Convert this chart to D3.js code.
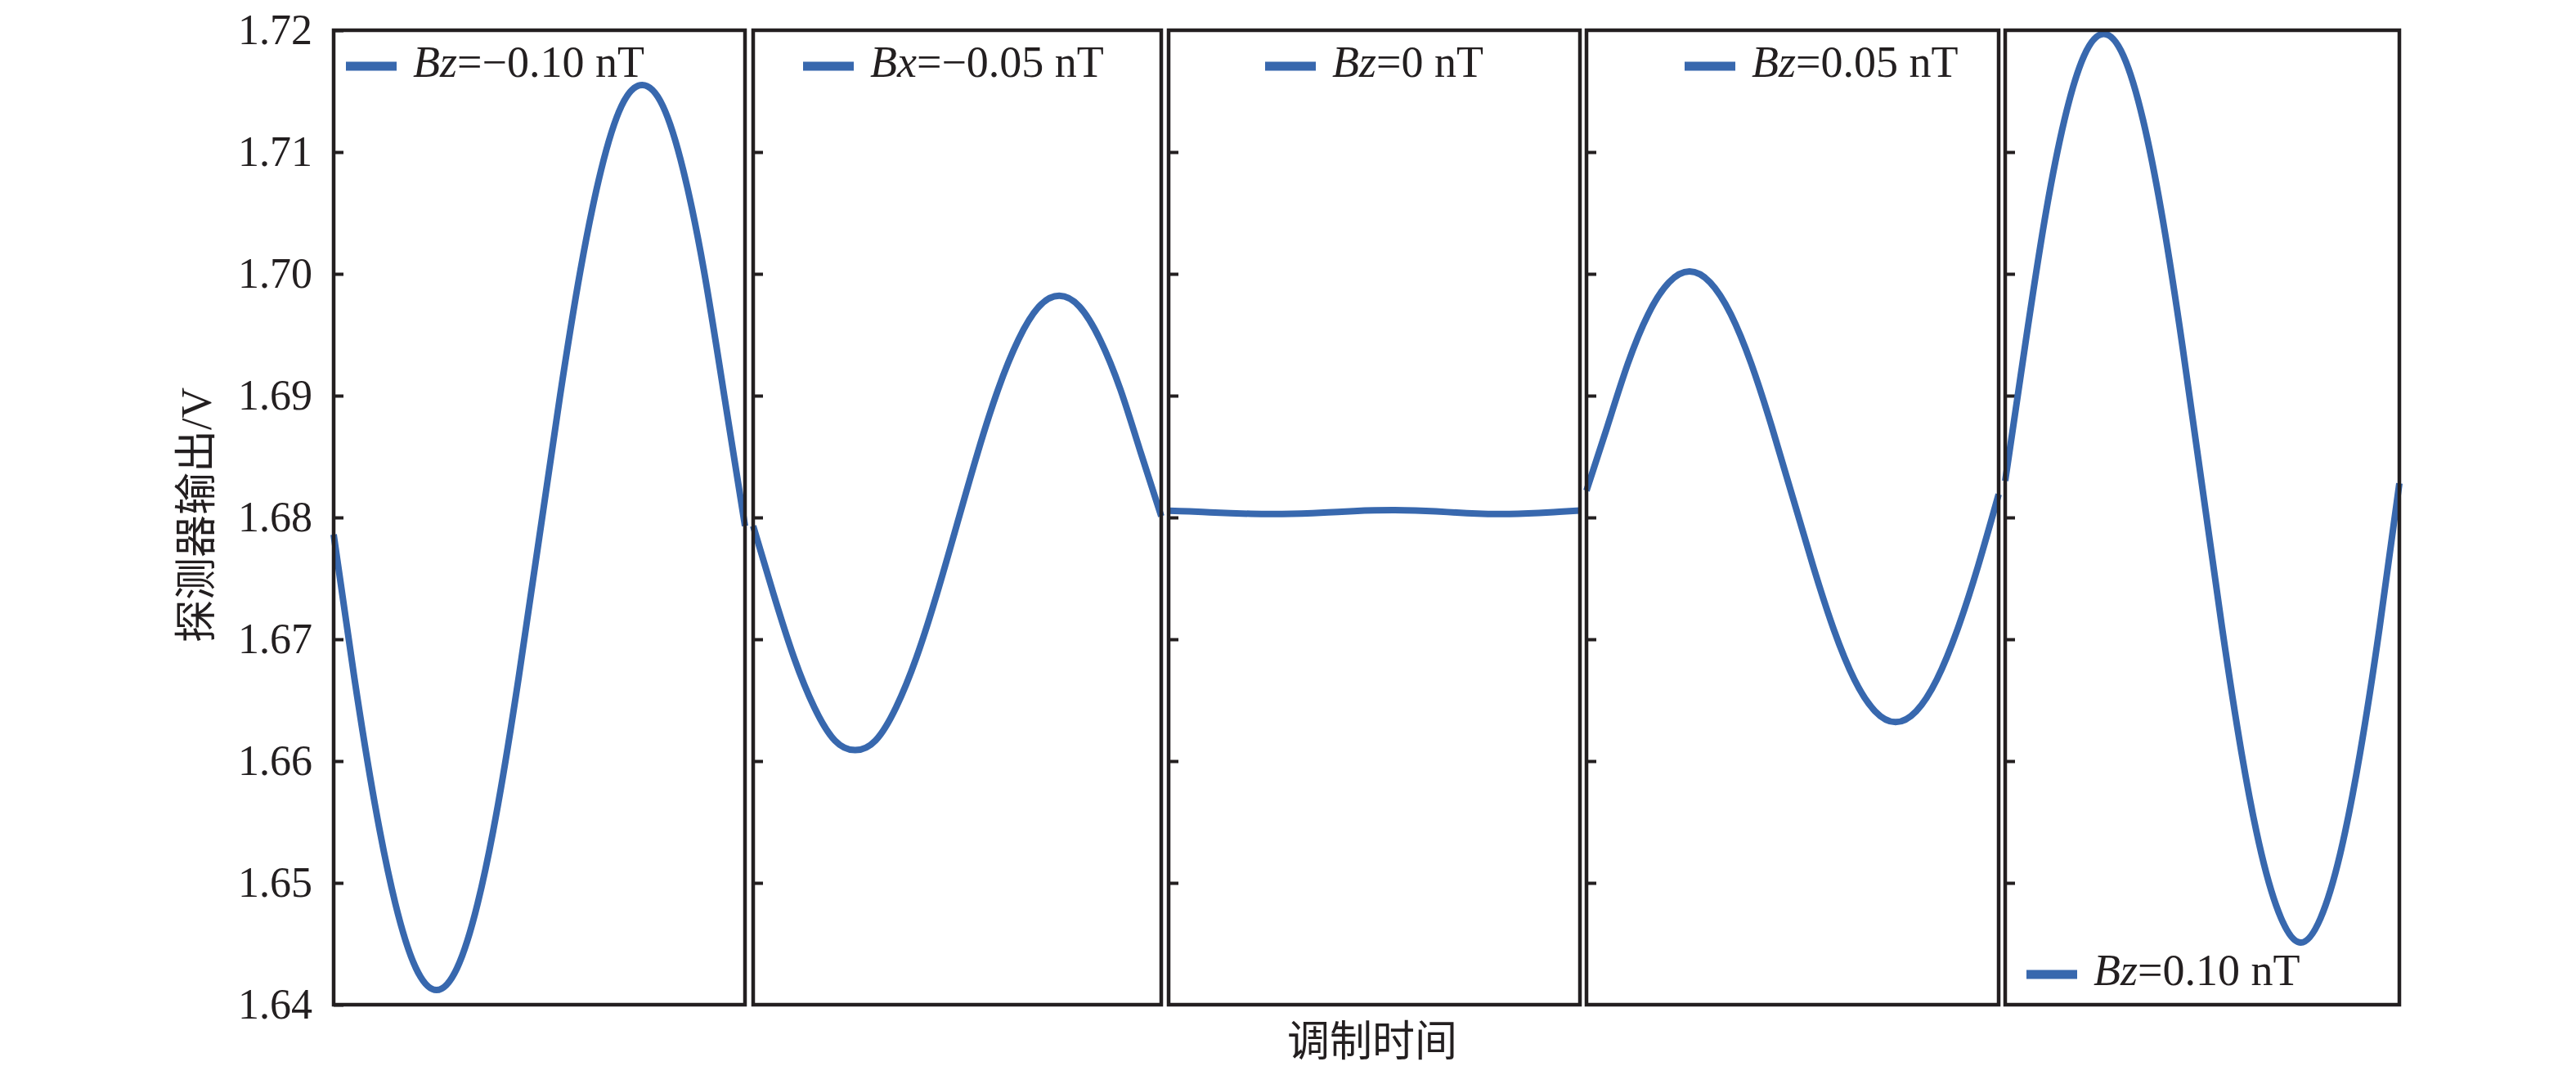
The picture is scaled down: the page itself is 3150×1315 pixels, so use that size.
<!DOCTYPE html>
<html>
<head>
<meta charset="utf-8">
<script src="https://cdn.jsdelivr.net/npm/d3@7"></script>
<style>
  body { margin: 0; background: #fff; }
  text { fill: #231f20; }
</style>
</head>
<body>
<div id="chart"></div>
<script>
var width = 3150, height = 1315;

// sample positions across one modulation period (fraction of panel width)
var tPos = [0, 0.05, 0.1, 0.15, 0.2, 0.25, 0.3, 0.35, 0.4, 0.45, 0.5,
            0.55, 0.6, 0.65, 0.7, 0.75, 0.8, 0.85, 0.9, 0.95, 1];

// detector output (V)
var outBzM010 = [1.6786, 1.6669, 1.6565, 1.6483, 1.6430, 1.6412, 1.6430, 1.6483, 1.6565, 1.6669, 1.6784,
                 1.6899, 1.7003, 1.7085, 1.7138, 1.7155, 1.7138, 1.7085, 1.7003, 1.6899, 1.6793];
var outBxM005 = [1.6793, 1.6737, 1.6685, 1.6644, 1.6617, 1.6609, 1.6617, 1.6644, 1.6685, 1.6737, 1.6795,
                 1.6853, 1.6905, 1.6946, 1.6973, 1.6982, 1.6973, 1.6946, 1.6905, 1.6853, 1.6801];
var outBz0    = [1.68055, 1.68050, 1.68042, 1.68035, 1.68030, 1.68028, 1.68030, 1.68036, 1.68044, 1.68052, 1.68058,
                 1.68060, 1.68057, 1.68050, 1.68040, 1.68032, 1.68028, 1.68030, 1.68037, 1.68047, 1.68057];
var outBz005  = [1.6822, 1.6874, 1.6926, 1.6967, 1.6993, 1.7002, 1.6993, 1.6967, 1.6926, 1.6874, 1.6817,
                 1.6760, 1.6708, 1.6667, 1.6641, 1.6632, 1.6641, 1.6667, 1.6708, 1.6760, 1.6819];
var outBz010  = [1.6830, 1.6940, 1.7044, 1.7126, 1.7179, 1.7197, 1.7179, 1.7126, 1.7044, 1.6940, 1.6825,
                 1.6710, 1.6606, 1.6524, 1.6471, 1.6451, 1.6471, 1.6524, 1.6606, 1.6710, 1.6828];

var seriesList = [outBzM010, outBxM005, outBz0, outBz005, outBz010];
var legendVar = ["Bz", "Bx", "Bz", "Bz", "Bz"];
var legendVal = ["=\u22120.10 nT", "=\u22120.05 nT", "=0 nT", "=0.05 nT", "=0.10 nT"];

var yTicks = [1.64, 1.65, 1.66, 1.67, 1.68, 1.69, 1.70, 1.71, 1.72];

// panel boxes (pixel layout)
var panelLeft  = [408, 921, 1429, 1940, 2452];
var panelRight = [911, 1420, 1932, 2444, 2934];
var legendX = [15, 61, 118, 120, 26];       // legend line start, from panel left
var legendY = [81, 81, 81, 81, 1192];
var plotTop = 37, plotBottom = 1229;
var blue = "#3868ae", ink = "#231f20";

var svg = d3.select("#chart").append("svg")
    .attr("width", width)
    .attr("height", height);

var y = d3.scaleLinear().domain([1.64, 1.72]).range([plotBottom, plotTop]);

seriesList.forEach(function(vals, i) {
  var x = d3.scaleLinear().domain([0, 1]).range([panelLeft[i], panelRight[i]]);
  var g = svg.append("g").attr("class", "panel");

  var axis = d3.axisLeft(y)
      .tickValues(i == 0 ? yTicks : yTicks.slice(1, -1))
      .tickSize(-12)
      .tickPadding(26)
      .tickFormat(i == 0 ? d3.format(".2f") : "");
  var ax = g.append("g")
      .attr("transform", "translate(" + panelLeft[i] + ",0)")
      .call(axis);
  ax.select(".domain").remove();
  ax.selectAll("line").attr("stroke", ink).attr("stroke-width", 4);
  ax.selectAll("text")
      .style("font-family", "'Liberation Serif', 'Times New Roman', serif")
      .style("font-size", "52px")
      .attr("fill", ink);

  g.append("path")
      .datum(vals)
      .attr("fill", "none")
      .attr("stroke", blue)
      .attr("stroke-width", 8)
      .attr("stroke-linejoin", "round")
      .attr("d", d3.line()
        .x(function(d, j) { return x(tPos[j]); })
        .y(function(d) { return y(d); })
        .curve(d3.curveNatural));

  g.append("rect")
      .attr("x", panelLeft[i]).attr("y", plotTop)
      .attr("width", panelRight[i] - panelLeft[i])
      .attr("height", plotBottom - plotTop)
      .attr("fill", "none")
      .attr("stroke", ink)
      .attr("stroke-width", 4.5);

  // legend
  var lx = panelLeft[i] + legendX[i], ly = legendY[i];
  g.append("line")
      .attr("x1", lx).attr("x2", lx + 62)
      .attr("y1", ly).attr("y2", ly)
      .attr("stroke", blue)
      .attr("stroke-width", 11);
  var t = g.append("text")
      .attr("x", lx + 82)
      .attr("y", ly + 13)
      .style("font-family", "'Liberation Serif', 'Times New Roman', serif")
      .style("font-size", "54px");
  t.append("tspan").style("font-style", "italic").text(legendVar[i]);
  t.append("tspan").text(legendVal[i]);
});

// axis titles
svg.append("text")
    .attr("transform", "translate(258,630) rotate(-90)")
    .attr("text-anchor", "middle")
    .style("font-family", "'Liberation Serif', 'Noto Sans CJK SC', serif")
    .style("font-size", "52px")
    .text("探测器输出/V");

svg.append("text")
    .attr("x", 1678)
    .attr("y", 1292)
    .attr("text-anchor", "middle")
    .style("font-family", "'Liberation Serif', 'Noto Sans CJK SC', serif")
    .style("font-size", "52px")
    .text("调制时间");
</script>
</body>
</html>
